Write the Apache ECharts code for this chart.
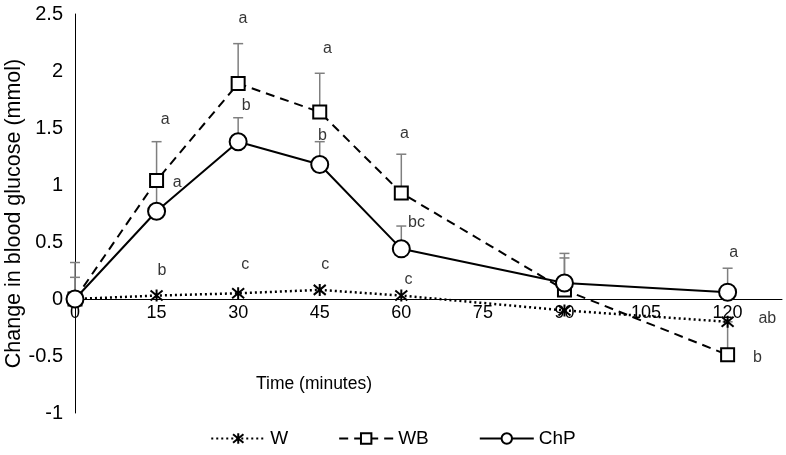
<!DOCTYPE html>
<html><head><meta charset="utf-8">
<script src="https://cdn.jsdelivr.net/npm/echarts@6/dist/echarts.min.js"></script>
<style>html,body{margin:0;padding:0;background:#fff}#c{width:786px;height:455px}</style>
</head><body><div id="c"></div>
<script>
var times = [0, 15, 30, 45, 60, 90, 120];
var W   = [0, 0.03, 0.05, 0.08, 0.03, -0.10, -0.20];
var WB  = [0, 1.04, 1.89, 1.64, 0.93, 0.08, -0.49];
var ChP = [0, 0.77, 1.38, 1.18, 0.44, 0.14, 0.06];
// upper ends of error bars
var WB_top  = [0.32, 1.38, 2.24, 1.98, 1.27, 0.40, -0.20];
var ChP_top = [0.19, 0.98, 1.59, 1.38, 0.64, 0.36, 0.27];
// significance letters [x, y, text]
var letters = [
  [16.6, 1.57, 'a'], [18.8, 1.02, 'a'], [16.0, 0.25, 'b'],
  [30.9, 2.46, 'a'], [31.5, 1.70, 'b'], [31.3, 0.30, 'c'],
  [46.4, 2.20, 'a'], [45.5, 1.43, 'b'], [46.0, 0.30, 'c'],
  [60.6, 1.45, 'a'], [62.8, 0.67, 'bc'], [61.3, 0.17, 'c'],
  [121.1, 0.41, 'a'], [127.3, -0.17, 'ab'], [125.5, -0.51, 'b']
];
var xTicks = [0, 15, 30, 45, 60, 75, 90, 105, 120];

function pairs(vals){ return times.map(function(t,i){ return [t, vals[i]]; }); }
function errData(vals, tops){ return times.map(function(t,i){ return [t, vals[i], tops[i]]; }); }

var FONT = 'Liberation Sans, Arial, sans-serif';
var asterisk = 'path://M0,0L10,10M10,0L0,10M5,-1L5,11';
var GRID_TOP = 14, GRID_BOTTOM = 42, H = 455;
var YMIN = -1, YMAX = 2.5;
var plotH = H - GRID_TOP - GRID_BOTTOM;
var zeroOffset = -plotH * (0 - YMIN) / (YMAX - YMIN);

function errSeries(vals, tops){
  return {
    type: 'custom', z: 1, silent: true,
    data: errData(vals, tops),
    renderItem: function(params, api){
      var p0 = api.coord([api.value(0), api.value(1)]);
      var p1 = api.coord([api.value(0), api.value(2)]);
      var style = {stroke: '#7f7f7f', lineWidth: 1.5};
      return {type: 'group', children: [
        {type: 'line', shape: {x1: p0[0], y1: p0[1], x2: p1[0], y2: p1[1]}, style: style},
        {type: 'line', shape: {x1: p1[0]-5, y1: p1[1], x2: p1[0]+5, y2: p1[1]}, style: style}
      ]};
    }
  };
}

var chart = echarts.init(document.getElementById('c'));
chart.setOption({
  animation: false,
  backgroundColor: '#fff',
  textStyle: {fontFamily: FONT},
  grid: {left: 75, right: 4, top: GRID_TOP, bottom: GRID_BOTTOM, containLabel: false, outerBoundsMode: 'none'},
  xAxis: {
    type: 'value', min: 0, max: 130, interval: 15,
    offset: zeroOffset,
    axisLine: {onZero: false, lineStyle: {color: '#000', width: 1}},
    axisTick: {show: false},
    splitLine: {show: false},
    axisLabel: {color: '#000', fontSize: 18, margin: 5, fontFamily: FONT,
      formatter: function(v){ return xTicks.indexOf(v) >= 0 ? String(v) : ''; }}
  },
  yAxis: {
    type: 'value', min: YMIN, max: YMAX, interval: 0.5,
    name: 'Change in blood glucose (mmol)', nameLocation: 'middle', nameGap: 50,
    nameMoveOverlap: false,
    nameTextStyle: {color: '#000', fontSize: 21.5, fontFamily: FONT},
    axisLine: {show: true, onZero: false, lineStyle: {color: '#000', width: 1}},
    axisTick: {show: false},
    splitLine: {show: false},
    axisLabel: {color: '#000', fontSize: 20, margin: 12, fontFamily: FONT}
  },
  legend: {
    data: ['W', 'WB', 'ChP'], bottom: 2, left: 'center', itemGap: 50,
    itemWidth: 54, itemHeight: 13,
    textStyle: {color: '#000', fontSize: 19, fontFamily: FONT}
  },
  graphic: [{
    type: 'text', left: 256, top: 375,
    style: {text: 'Time (minutes)', fill: '#000', font: '17.5px ' + FONT}
  }],
  series: [
    errSeries(WB, WB_top),
    errSeries(ChP, ChP_top),
    {
      name: 'W', type: 'line', z: 3, data: pairs(W),
      symbol: asterisk, symbolSize: 12, showAllSymbol: true,
      lineStyle: {color: '#000', width: 2.5, type: [2, 3]},
      itemStyle: {color: '#000', borderColor: '#000', borderWidth: 2}
    },
    {
      name: 'WB', type: 'line', z: 3, data: pairs(WB),
      symbol: 'rect', symbolSize: 13,
      lineStyle: {color: '#000', width: 2, type: [9, 6]},
      itemStyle: {color: '#fff', borderColor: '#000', borderWidth: 2}
    },
    {
      name: 'ChP', type: 'line', z: 4, data: pairs(ChP),
      symbol: 'circle', symbolSize: 17,
      lineStyle: {color: '#000', width: 2, type: 'solid'},
      itemStyle: {color: '#fff', borderColor: '#000', borderWidth: 2}
    },
    {
      type: 'scatter', z: 6, silent: true, symbolSize: 0,
      data: letters,
      label: {show: true, position: 'inside', color: '#000', fontSize: 16, fontFamily: FONT,
        formatter: function(p){ return p.value[2]; }}
    }
  ]
});
</script>
</body></html>
